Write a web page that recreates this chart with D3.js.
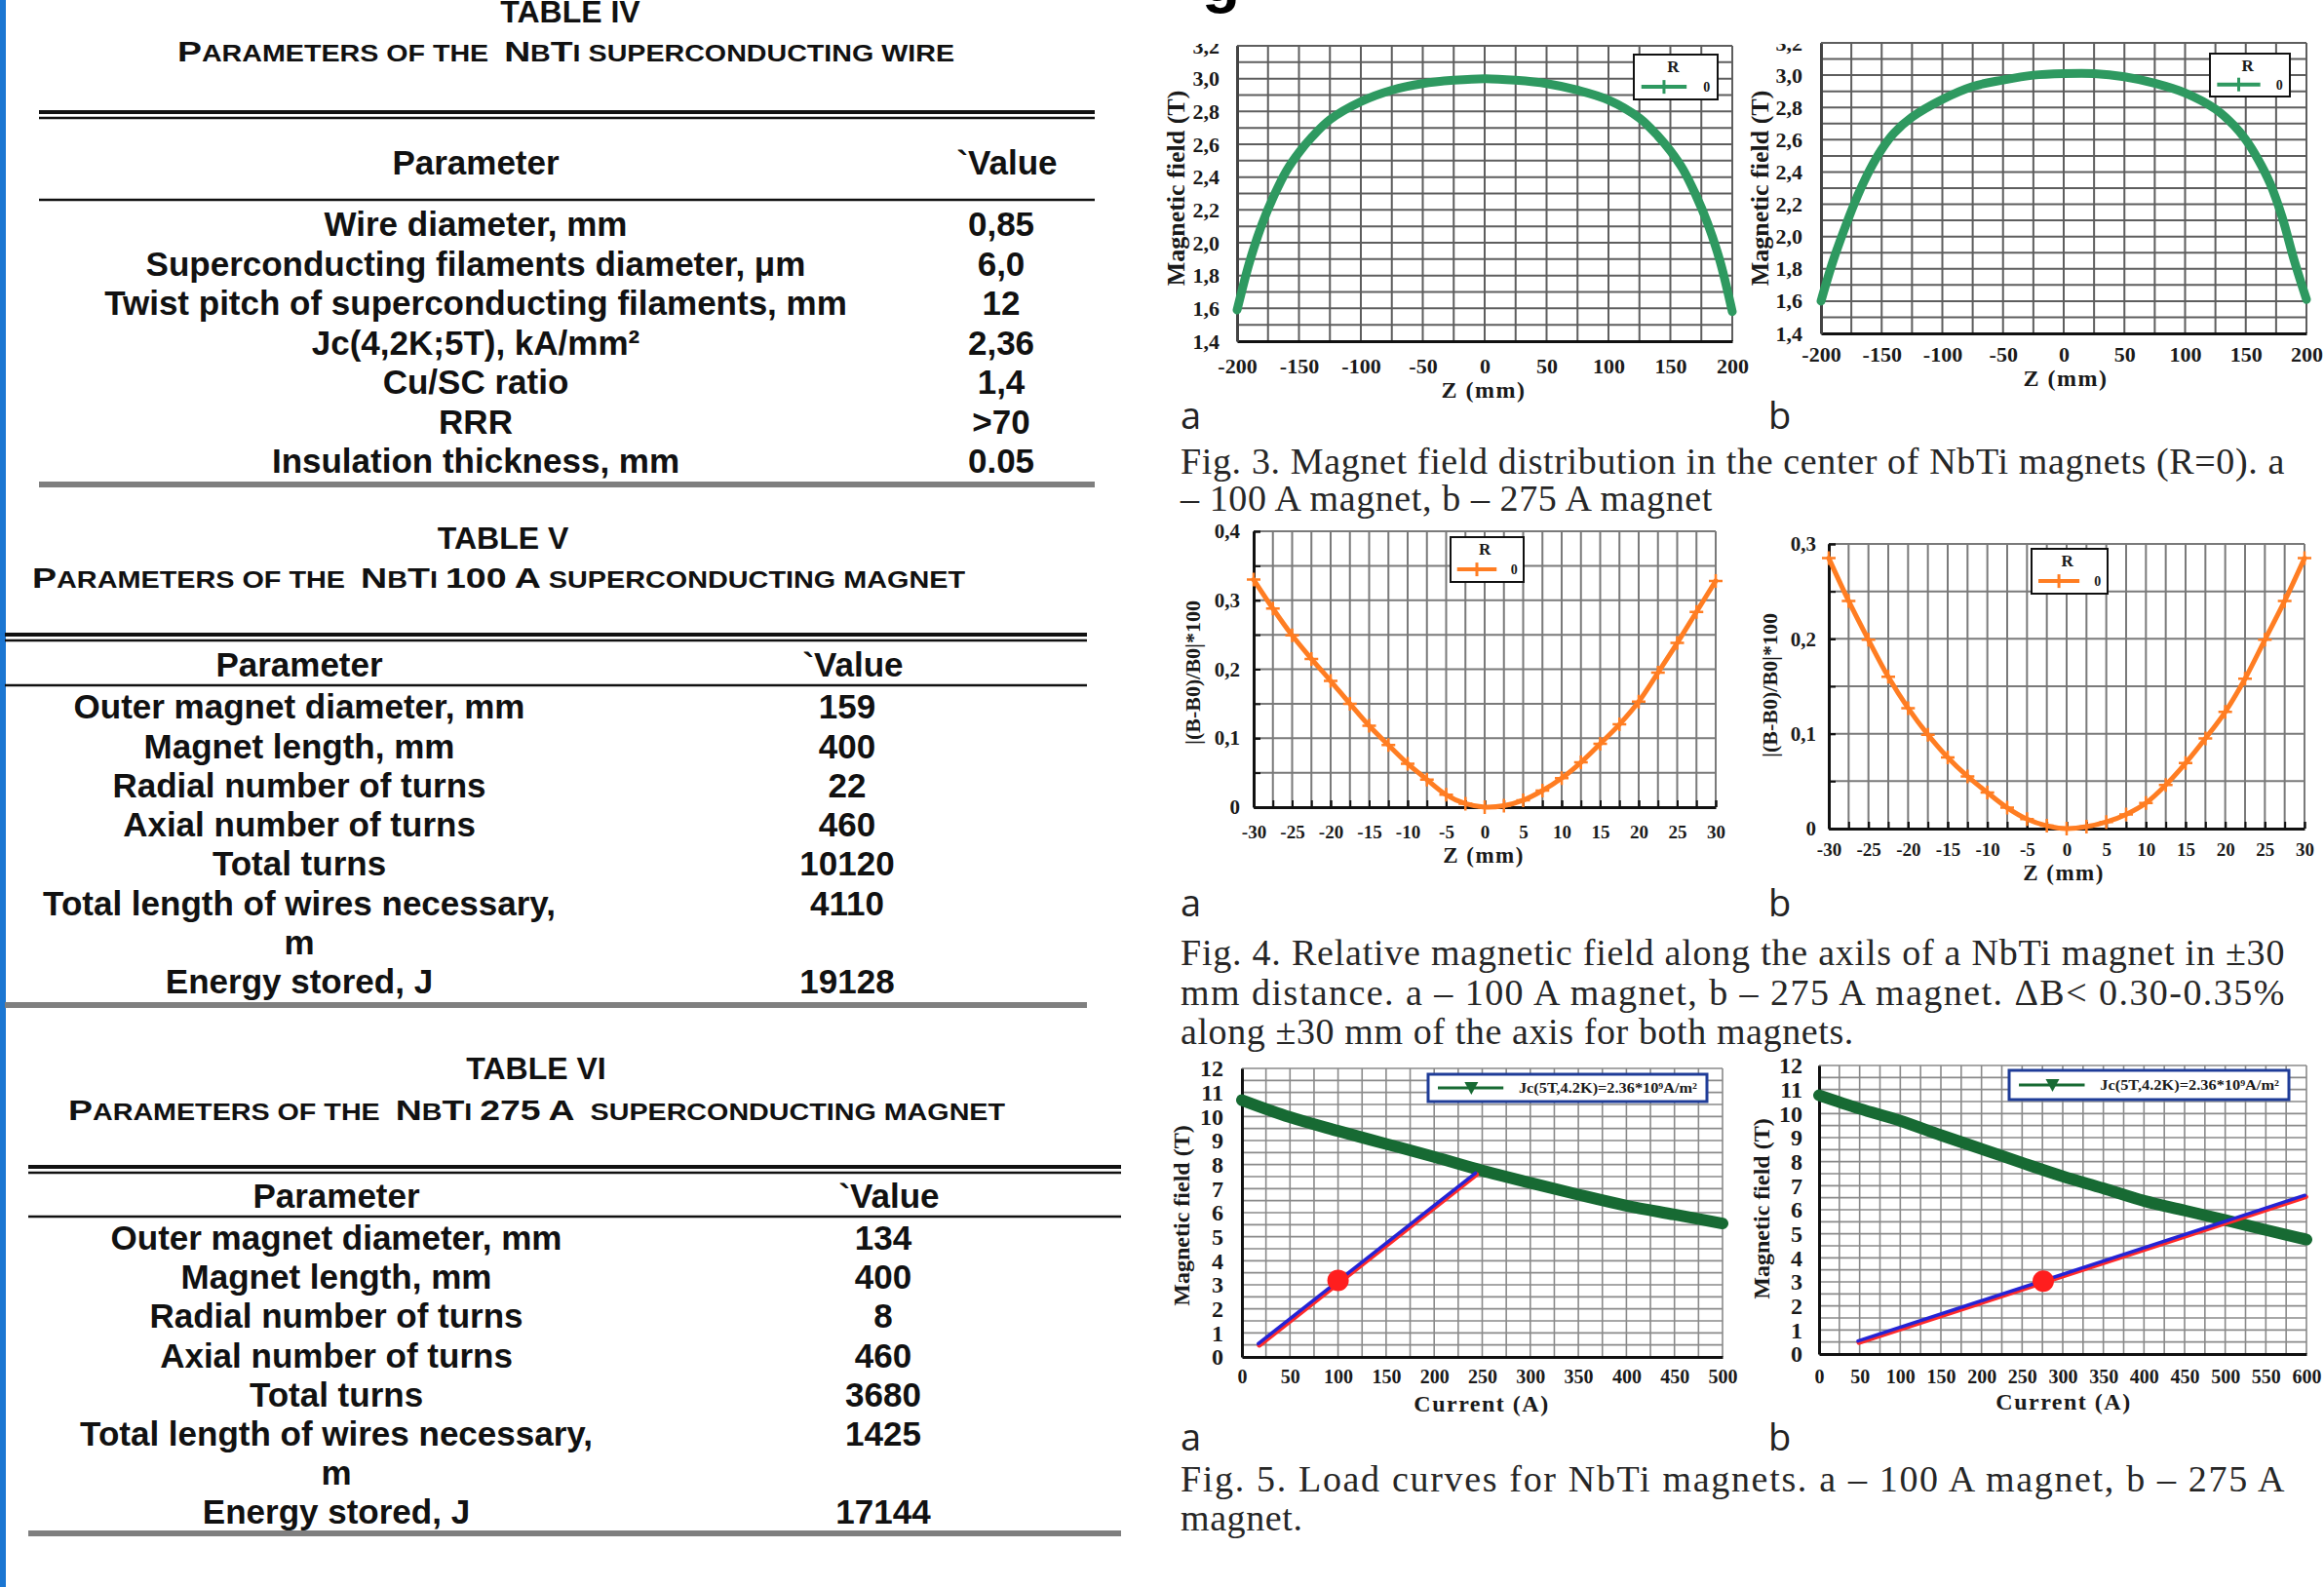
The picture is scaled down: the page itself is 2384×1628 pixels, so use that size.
<!DOCTYPE html>
<html>
<head>
<meta charset="utf-8">
<script src="https://cdn.jsdelivr.net/npm/d3@7"></script>
<style>
  html, body { margin: 0; padding: 0; background: #fff; }
  svg { display: block; }
  .tbl text { font-family: 'Liberation Sans', Arial, sans-serif; font-weight: bold; fill: #111; white-space: pre; }
  .ax text { font-family: 'Liberation Serif', 'Times New Roman', serif; font-weight: bold; fill: #1a1a1a; }
  .ttl { font-family: 'Liberation Serif', 'Times New Roman', serif; font-weight: bold; fill: #1a1a1a; }
  .cap { font-family: 'Liberation Serif', 'Times New Roman', serif; fill: #262626; font-size: 38px; letter-spacing: 0.6px; }
  .pnl { font-family: 'Open Sans', 'Noto Sans', sans-serif; fill: #222; font-size: 38px; }
</style>
</head>
<body>
<svg id="page" width="2384" height="1628"></svg>
<script>
// ---- tables
const wireParams = ['Wire diameter, mm', 'Superconducting filaments diameter, μm', 'Twist pitch of superconducting filaments, mm',
  'Jc(4,2K;5T), kA/mm²', 'Cu/SC ratio', 'RRR', 'Insulation thickness, mm'];
const wireValues = ['0,85', '6,0', '12', '2,36', '1,4', '>70', '0.05'];
const magnetParams = ['Outer magnet diameter, mm', 'Magnet length, mm', 'Radial number of turns', 'Axial number of turns',
  'Total turns', 'Total length of wires necessary,|m', 'Energy stored, J'];
const magnet100Values = ['159', '400', '22', '460', '10120', '4110', '19128'];
const magnet275Values = ['134', '400', '8', '460', '3680', '1425', '17144'];

// ---- fig 3: field along the axis (T)
const zField = [-200, -190, -180, -170, -160, -150, -140, -125, -100, -75, -50, -25, 0, 25, 50, 75, 100, 125, 140, 150, 160, 170, 180, 190, 200];
const field100 = [1.59, 1.88, 2.11, 2.29, 2.44, 2.55, 2.64, 2.75, 2.86, 2.93, 2.97, 2.99, 3.00, 2.99, 2.97, 2.93, 2.87, 2.76, 2.65, 2.56, 2.45, 2.30, 2.12, 1.89, 1.58];
const field275 = [1.60, 1.85, 2.06, 2.25, 2.41, 2.54, 2.64, 2.74, 2.85, 2.93, 2.97, 3.00, 3.01, 3.01, 2.99, 2.95, 2.89, 2.79, 2.69, 2.60, 2.48, 2.33, 2.12, 1.85, 1.61];
const fig3XTicks = [-200, -150, -100, -50, 0, 50, 100, 150, 200];
const fig3YTicks = [1.4, 1.6, 1.8, 2.0, 2.2, 2.4, 2.6, 2.8, 3.0, 3.2];

// ---- fig 4: relative field |(B-B0)/B0|*100
const zRel = [-30, -27.5, -25, -22.5, -20, -17.5, -15, -12.5, -10, -7.5, -5, -2.5, 0, 2.5, 5, 7.5, 10, 12.5, 15, 17.5, 20, 22.5, 25, 27.5, 30];
const rel100 = [0.330, 0.288, 0.249, 0.215, 0.183, 0.150, 0.118, 0.090, 0.063, 0.040, 0.018, 0.005, 0.000, 0.002, 0.010, 0.024, 0.042, 0.065, 0.092, 0.120, 0.153, 0.195, 0.238, 0.283, 0.328];
const rel275 = [0.285, 0.240, 0.199, 0.160, 0.127, 0.099, 0.075, 0.055, 0.038, 0.022, 0.010, 0.003, 0.000, 0.002, 0.007, 0.015, 0.027, 0.046, 0.069, 0.095, 0.123, 0.158, 0.199, 0.240, 0.285];
const fig4XTicks = [-30, -25, -20, -15, -10, -5, 0, 5, 10, 15, 20, 25, 30];
const fig4aYTicks = [0, 0.1, 0.2, 0.3, 0.4];
const fig4bYTicks = [0, 0.1, 0.2, 0.3];

// ---- fig 5: load curves
const current100 = [0, 50, 100, 150, 200, 250, 300, 350, 400, 450, 500];
const jc100 = [10.68, 9.97, 9.40, 8.86, 8.32, 7.75, 7.24, 6.75, 6.29, 5.92, 5.55];
const current275 = [0, 50, 100, 150, 200, 250, 300, 350, 400, 450, 500, 550, 600];
const jc275 = [10.76, 10.20, 9.70, 9.10, 8.53, 7.95, 7.39, 6.89, 6.37, 5.97, 5.57, 5.16, 4.76];
const load100I = [17, 243];
const load100B = [0.55, 7.65];
const load275I = [48, 598];
const load275B = [0.54, 6.60];
const workI = [100, 276];
const workB = [3.18, 3.03];
const fig5YTicks = [0, 1, 2, 3, 4, 5, 6, 7, 8, 9, 10, 11, 12];
const fig5aXTicks = [0, 50, 100, 150, 200, 250, 300, 350, 400, 450, 500];
const fig5bXTicks = [0, 50, 100, 150, 200, 250, 300, 350, 400, 450, 500, 550, 600];

const svg = d3.select('#page');

svg.append('rect').attr('x', 0).attr('y', 0).attr('width', 6).attr('height', 1628).attr('fill', '#1b76d2');

// bottom of a big heading glyph cut by the page edge
svg.append('text').attr('x', 1233).attr('y', 1)
  .style('font-family', 'Liberation Sans, Arial, sans-serif').style('font-weight', 'bold').style('font-size', '64px')
  .text('g');

// ---------- tables ----------
function drawTable(t) {
  const g = svg.append('g').attr('class', 'tbl');
  g.append('text').attr('x', t.titleX).attr('y', t.titleY).attr('text-anchor', 'middle')
    .style('font-size', '32px').text(t.title);

  // small caps subtitle: capitals and digits stay big
  const sub = g.append('text').attr('x', t.subX0).attr('y', t.subY)
    .attr('textLength', t.subX1 - t.subX0).attr('lengthAdjust', 'spacingAndGlyphs');
  const parts = [];
  for (const ch of t.subtitle) {
    const big = /[A-Z0-9]/.test(ch);
    if (parts.length && parts[parts.length - 1].big === big) parts[parts.length - 1].s += ch;
    else parts.push({ big, s: ch });
  }
  parts.forEach(p => sub.append('tspan').style('font-size', p.big ? '30px' : '23px').text(p.s.toUpperCase()));

  const line = (y, w, col) => g.append('line').attr('x1', t.x0).attr('x2', t.x1).attr('y1', y).attr('y2', y)
    .attr('stroke', col).attr('stroke-width', w);
  line(t.dblY, 4, '#111');
  line(t.dblY + 6, 2.5, '#111');
  line(t.hdrLineY, 2.5, '#111');
  line(t.bottomY, 6, '#7f7f7f');

  g.append('text').attr('x', t.paramX).attr('y', t.hdrY).attr('dy', '0.35em').attr('text-anchor', 'middle')
    .style('font-size', '35px').text('Parameter');
  g.append('text').attr('x', t.valueX + 6).attr('y', t.hdrY).attr('dy', '0.35em').attr('text-anchor', 'middle')
    .style('font-size', '35px').text('`Value');

  let li = 0;
  t.params.forEach((p, i) => {
    const y0 = t.rowY0 + li * t.rowStep;
    p.split('|').forEach((s, k) => {
      g.append('text').attr('x', t.paramX).attr('y', t.rowY0 + (li + k) * t.rowStep).attr('dy', '0.35em')
        .attr('text-anchor', 'middle').style('font-size', '35px').text(s);
    });
    g.append('text').attr('x', t.valueX).attr('y', y0).attr('dy', '0.35em').attr('text-anchor', 'middle')
      .style('font-size', '35px').text(t.values[i]);
    li += p.split('|').length;
  });
}

drawTable({
  title: 'TABLE IV', titleX: 585, titleY: 23,
  subtitle: 'Parameters of the  NbTi superconducting wire', subX0: 182, subX1: 979, subY: 63,
  x0: 40, x1: 1123, dblY: 115, hdrY: 167, hdrLineY: 205, bottomY: 497,
  paramX: 488, valueX: 1027, rowY0: 230, rowStep: 40.5,
  params: wireParams, values: wireValues
});
drawTable({
  title: 'TABLE V', titleX: 516, titleY: 563,
  subtitle: 'Parameters of the  NbTi 100 A superconducting magnet', subX0: 33, subX1: 990, subY: 603,
  x0: 5, x1: 1115, dblY: 651, hdrY: 682, hdrLineY: 703, bottomY: 1031,
  paramX: 307, valueX: 869, rowY0: 725, rowStep: 40.3,
  params: magnetParams, values: magnet100Values
});
drawTable({
  title: 'TABLE VI', titleX: 550, titleY: 1107,
  subtitle: 'Parameters of the  NbTi 275 A  superconducting magnet', subX0: 70, subX1: 1031, subY: 1149,
  x0: 29, x1: 1150, dblY: 1197, hdrY: 1227, hdrLineY: 1248, bottomY: 1573,
  paramX: 345, valueX: 906, rowY0: 1270, rowStep: 40.1,
  params: magnetParams, values: magnet275Values
});

// ---------- plots ----------
// cuts the top tick label of fig. 3 the way the page edge does
svg.append('clipPath').attr('id', 'topcut').attr('clipPathUnits', 'userSpaceOnUse').append('rect')
  .attr('x', -3000).attr('y', 45).attr('width', 6000).attr('height', 2000);

const comma1 = d => d.toFixed(1).replace('.', ',');

function drawPlot(c) {
  const g = svg.append('g');
  const x = d3.scaleLinear().domain(c.xDomain).range(c.xRange);
  const y = d3.scaleLinear().domain(c.yDomain).range(c.yRange);
  const [xl, xr] = c.xRange, [yb, yt] = c.yRange;

  g.append('rect').attr('x', xl).attr('y', yt).attr('width', xr - xl).attr('height', yb - yt).attr('fill', '#fff');

  const gx = d3.range(c.xDomain[0], c.xDomain[1] + c.xGrid / 2, c.xGrid);
  const gy = d3.range(c.yDomain[0], c.yDomain[1] + c.yGrid / 2, c.yGrid);
  g.append('g').selectAll('line').data(gx).join('line')
    .attr('x1', d => x(d)).attr('x2', d => x(d)).attr('y1', yt).attr('y2', yb)
    .attr('stroke', c.gridColor).attr('stroke-width', c.gridWidth);
  g.append('g').selectAll('line').data(gy).join('line')
    .attr('x1', xl).attr('x2', xr).attr('y1', d => y(d)).attr('y2', d => y(d))
    .attr('stroke', c.gridColor).attr('stroke-width', c.gridWidth);

  // axes
  const ax = g.append('g').attr('class', 'ax').attr('transform', `translate(0,${yb})`)
    .call(d3.axisBottom(x).tickValues(c.xTicks).tickSizeInner(c.minor ? -7 : 0).tickSizeOuter(0)
      .tickPadding(c.xPad).tickFormat(d => String(d)));
  ax.select('.domain').attr('stroke', '#111').attr('stroke-width', c.axisWidth);
  ax.selectAll('.tick line').attr('stroke', '#111').attr('stroke-width', 2);
  ax.selectAll('text').style('font-size', c.xFont + 'px');

  const ay = g.append('g').attr('class', 'ax').attr('transform', `translate(${xl},0)`)
    .call(d3.axisLeft(y).tickValues(c.yTicks).tickSizeInner(c.minor ? -7 : 0).tickSizeOuter(0)
      .tickPadding(c.yPad).tickFormat(c.yFmt));
  ay.select('.domain').attr('stroke', c.leftColor).attr('stroke-width', c.axisWidth);
  ay.selectAll('.tick line').attr('stroke', '#111').attr('stroke-width', 2);
  ay.selectAll('text').style('font-size', c.yFont + 'px');
  if (c.clip) ay.attr('clip-path', 'url(#topcut)');

  if (c.minor) {
    g.append('g').attr('transform', `translate(0,${yb})`)
      .call(d3.axisBottom(x).tickValues(gx).tickSizeInner(-7).tickSizeOuter(0).tickFormat(''))
      .call(s => { s.select('.domain').remove(); s.selectAll('line').attr('stroke', '#111').attr('stroke-width', 2); });
    g.append('g').attr('transform', `translate(${xl},0)`)
      .call(d3.axisLeft(y).tickValues(gy).tickSizeInner(-7).tickSizeOuter(0).tickFormat(''))
      .call(s => { s.select('.domain').remove(); s.selectAll('line').attr('stroke', '#111').attr('stroke-width', 2); });
  }

  // titles
  g.append('text').attr('class', 'ttl').attr('transform', `translate(${c.yTitle.x},${c.yTitle.y}) rotate(-90)`)
    .attr('text-anchor', 'middle').attr('dy', '0.35em').style('font-size', c.yTitle.size + 'px').text(c.yTitle.text);
  g.append('text').attr('class', 'ttl').attr('x', c.xTitle.x).attr('y', c.xTitle.y)
    .attr('text-anchor', 'middle').style('font-size', c.xTitle.size + 'px').style('letter-spacing', '1.5px')
    .text(c.xTitle.text);

  // series
  c.series.forEach(s => {
    const pts = d3.zip(s.xs, s.ys);
    const line = d3.line().x(d => x(d[0])).y(d => y(d[1])).curve(s.curve || d3.curveLinear);
    g.append('path').datum(pts).attr('d', line).attr('fill', 'none')
      .attr('stroke', s.color).attr('stroke-width', s.width).attr('stroke-linecap', 'round')
      .attr('transform', s.shift ? `translate(${s.shift[0]},${s.shift[1]})` : null);
    if (s.cross) {
      g.append('g').selectAll('path').data(pts).join('path')
        .attr('transform', d => `translate(${x(d[0])},${y(d[1])})`)
        .attr('d', 'M-7,0H7M0,-7V7').attr('stroke', s.color).attr('stroke-width', 2.5);
    }
  });
  if (c.dot) {
    g.append('circle').attr('cx', x(c.dot[0])).attr('cy', y(c.dot[1])).attr('r', 11).attr('fill', '#ff1e1e');
  }

  // legend
  const L = c.legend;
  const lg = g.append('g').attr('transform', `translate(${L.x},${L.y})`);
  if (L.kind === 'R') {
    lg.append('rect').attr('width', L.w).attr('height', L.h).attr('fill', '#fff').attr('stroke', '#111').attr('stroke-width', 2);
    lg.append('text').attr('class', 'ttl').attr('x', L.w * 0.47).attr('y', L.h * 0.27).attr('dy', '0.35em')
      .attr('text-anchor', 'middle').style('font-size', '17px').text('R');
    lg.append('line').attr('x1', L.w * 0.09).attr('x2', L.w * 0.63).attr('y1', L.h * 0.72).attr('y2', L.h * 0.72)
      .attr('stroke', L.color).attr('stroke-width', 4);
    lg.append('path').attr('transform', `translate(${L.w * 0.36},${L.h * 0.72})`).attr('d', 'M0,-7V7')
      .attr('stroke', L.color).attr('stroke-width', 3);
    lg.append('text').attr('class', 'ttl').attr('x', L.w * 0.87).attr('y', L.h * 0.72).attr('dy', '0.35em')
      .attr('text-anchor', 'middle').style('font-size', '14px').text('0');
  } else {
    lg.append('rect').attr('width', L.w).attr('height', L.h).attr('fill', '#fff').attr('stroke', '#1f3c98').attr('stroke-width', 3);
    lg.append('line').attr('x1', L.w * 0.035).attr('x2', L.w * 0.27).attr('y1', L.h / 2).attr('y2', L.h / 2)
      .attr('stroke', L.color).attr('stroke-width', 3);
    lg.append('path').attr('transform', `translate(${L.w * 0.155},${L.h / 2})`).attr('d', 'M-7,-6L7,-6L0,7Z')
      .attr('fill', L.color);
    lg.append('text').attr('class', 'ttl').attr('x', L.w * 0.325).attr('y', L.h / 2).attr('dy', '0.35em')
      .attr('textLength', L.w * 0.64).attr('lengthAdjust', 'spacingAndGlyphs')
      .style('font-size', '15px').text('Jc(5T,4.2K)=2.36*10⁹A/m²');
  }

  svg.append('text').attr('class', 'pnl').attr('x', c.panel.x).attr('y', c.panel.y).text(c.panel.text);
}

const green = '#2e9960', orange = '#ff7d22', dark = '#176a33';

const plots = [
  { xDomain: [-200, 200], xRange: [1269, 1777], yDomain: [1.4, 3.2], yRange: [350, 47],
    xGrid: 25, yGrid: 0.1, xTicks: fig3XTicks, yTicks: fig3YTicks, yFmt: comma1,
    xPad: 17, yPad: 18, xFont: 22, yFont: 22, gridColor: '#5e5e5e', gridWidth: 2, leftColor: '#444', axisWidth: 3,
    yTitle: { text: 'Magnetic field (T)', x: 1206, y: 193, size: 26 },
    xTitle: { text: 'Z (mm)', x: 1522, y: 408, size: 24 },
    panel: { text: 'a', x: 1211, y: 440 }, clip: true,
    series: [{ xs: zField, ys: field100, color: green, width: 9, curve: d3.curveCatmullRom }],
    legend: { kind: 'R', x: 1676, y: 56, w: 86, h: 46, color: green } },
  { xDomain: [-200, 200], xRange: [1868, 2366], yDomain: [1.4, 3.2], yRange: [342, 44],
    xGrid: 25, yGrid: 0.1, xTicks: fig3XTicks, yTicks: fig3YTicks, yFmt: comma1,
    xPad: 13, yPad: 19, xFont: 22, yFont: 22, gridColor: '#5e5e5e', gridWidth: 2, leftColor: '#444', axisWidth: 3,
    yTitle: { text: 'Magnetic field (T)', x: 1805, y: 193, size: 26 },
    xTitle: { text: 'Z (mm)', x: 2119, y: 396, size: 24 },
    panel: { text: 'b', x: 1814, y: 440 }, clip: true,
    series: [{ xs: zField, ys: field275, color: green, width: 9, curve: d3.curveCatmullRom }],
    legend: { kind: 'R', x: 2267, y: 55, w: 82, h: 44, color: green } },
  { xDomain: [-30, 30], xRange: [1286, 1760], yDomain: [0, 0.4], yRange: [828, 545],
    xGrid: 2.5, yGrid: 0.05, xTicks: fig4XTicks, yTicks: fig4aYTicks, yFmt: d => d === 0 ? '0' : comma1(d),
    xPad: 19, yPad: 14, xFont: 19, yFont: 21, gridColor: '#7a7a7a', gridWidth: 2, leftColor: '#111', axisWidth: 3, minor: true,
    yTitle: { text: '|(B-B0)/B0|*100', x: 1223, y: 690, size: 22 },
    xTitle: { text: 'Z (mm)', x: 1522, y: 885, size: 23 },
    panel: { text: 'a', x: 1211, y: 940 },
    series: [{ xs: zRel, ys: rel100, color: orange, width: 5, curve: d3.curveCatmullRom, cross: true }],
    legend: { kind: 'R', x: 1488, y: 551, w: 75, h: 46, color: orange } },
  { xDomain: [-30, 30], xRange: [1876, 2364], yDomain: [0, 0.3], yRange: [850, 558],
    xGrid: 2.5, yGrid: 0.05, xTicks: fig4XTicks, yTicks: fig4bYTicks, yFmt: d => d === 0 ? '0' : comma1(d),
    xPad: 15, yPad: 13, xFont: 19, yFont: 21, gridColor: '#7a7a7a', gridWidth: 2, leftColor: '#111', axisWidth: 3, minor: true,
    yTitle: { text: '|(B-B0)/B0|*100', x: 1815, y: 703, size: 22 },
    xTitle: { text: 'Z (mm)', x: 2117, y: 903, size: 23 },
    panel: { text: 'b', x: 1814, y: 940 },
    series: [{ xs: zRel, ys: rel275, color: orange, width: 5, curve: d3.curveCatmullRom, cross: true }],
    legend: { kind: 'R', x: 2084, y: 563, w: 78, h: 46, color: orange } },
  { xDomain: [0, 500], xRange: [1274, 1767], yDomain: [0, 12], yRange: [1392, 1096],
    xGrid: 25, yGrid: 0.5, xTicks: fig5aXTicks, yTicks: fig5YTicks, yFmt: d => String(d),
    xPad: 13, yPad: 19, xFont: 20, yFont: 24, gridColor: '#8a8a8a', gridWidth: 1.6, leftColor: '#111', axisWidth: 3,
    yTitle: { text: 'Magnetic field (T)', x: 1212, y: 1247, size: 24 },
    xTitle: { text: 'Current (A)', x: 1520, y: 1448, size: 24 },
    panel: { text: 'a', x: 1211, y: 1488 },
    series: [
      { xs: current100, ys: jc100, color: dark, width: 12, curve: d3.curveMonotoneX },
      { xs: load100I, ys: load100B, color: '#ff2a2a', width: 5, shift: [1, 1.5] },
      { xs: load100I, ys: load100B, color: '#2424d6', width: 3.5 }],
    dot: [workI[0], workB[0]],
    legend: { kind: 'jc', x: 1465, y: 1102, w: 286, h: 28, color: dark } },
  { xDomain: [0, 600], xRange: [1866, 2366], yDomain: [0, 12], yRange: [1389, 1093],
    xGrid: 25, yGrid: 0.5, xTicks: fig5bXTicks, yTicks: fig5YTicks, yFmt: d => String(d),
    xPad: 16, yPad: 17, xFont: 20, yFont: 24, gridColor: '#8a8a8a', gridWidth: 1.6, leftColor: '#111', axisWidth: 3,
    yTitle: { text: 'Magnetic field (T)', x: 1807, y: 1240, size: 24 },
    xTitle: { text: 'Current (A)', x: 2117, y: 1446, size: 24 },
    panel: { text: 'b', x: 1814, y: 1488 },
    series: [
      { xs: current275, ys: jc275, color: dark, width: 12, curve: d3.curveMonotoneX },
      { xs: load275I, ys: load275B, color: '#ff2a2a', width: 5, shift: [1, 1.5] },
      { xs: load275I, ys: load275B, color: '#2424d6', width: 3.5 }],
    dot: [workI[1], workB[1]],
    legend: { kind: 'jc', x: 2061, y: 1098, w: 287, h: 30, color: dark } }
];
plots.forEach(drawPlot);

// ---------- captions ----------
const capLeft = 1211, capRight = 2344;
const captions = [
  { lines: ['Fig. 3. Magnet field distribution in the center of NbTi magnets (R=0). a', '– 100 A magnet, b – 275 A magnet'], y0: 486, step: 38 },
  { lines: ['Fig. 4. Relative magnetic field along the axils of a NbTi magnet in ±30',
    'mm distance. a – 100 A magnet, b – 275 A magnet. ΔB< 0.30-0.35%', 'along ±30 mm of the axis for both magnets.'], y0: 990, step: 40.5 },
  { lines: ['Fig. 5. Load curves for NbTi magnets. a – 100 A magnet, b – 275 A', 'magnet.'], y0: 1530, step: 40 }
];
captions.forEach(cp => {
  cp.lines.forEach((s, i) => {
    const t = svg.append('text').attr('class', 'cap').attr('x', capLeft).attr('y', cp.y0 + i * cp.step).text(s);
    if (i < cp.lines.length - 1) t.attr('textLength', capRight - capLeft).attr('lengthAdjust', 'spacing');
  });
});
</script>
</body>
</html>
